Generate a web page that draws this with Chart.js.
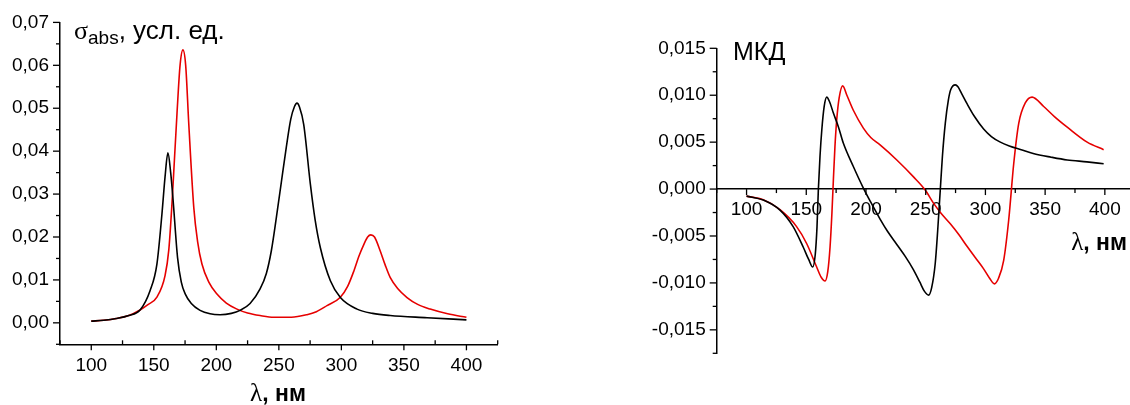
<!DOCTYPE html>
<html>
<head>
<meta charset="utf-8">
<script src="https://cdn.jsdelivr.net/npm/chart.js@4"></script>
<style>
body { margin: 0; width: 1130px; height: 405px; overflow: hidden; background: #fff; position: relative; }
#absBox { position: absolute; left: 0; top: 0; width: 520px; height: 405px; }
#mcdBox { position: absolute; left: 600px; top: 0; width: 540px; height: 405px; }
</style>
</head>
<body>
<div id="absBox"><canvas id="abs"></canvas></div>
<div id="mcdBox"><canvas id="mcd"></canvas></div>
<script>
// absorption, black curve
var absBlackX = [100, 110, 120, 130, 139, 147, 152.5, 156.5, 159, 161.3, 163.5, 165.3, 169, 172, 175.2, 180, 187, 195, 203, 212, 219, 227, 235, 240, 244, 248, 252, 256, 259.5, 262.5, 264.5, 266.5, 269.9, 275.2, 279, 283.2, 291.2, 299.2, 312.5, 325, 339, 368.5, 400];
var absBlackY = [0.0004, 0.0006, 0.0010, 0.0017, 0.0030, 0.0075, 0.0137, 0.0253, 0.0340, 0.0396, 0.0350, 0.0291, 0.0152, 0.0095, 0.0067, 0.0045, 0.0029, 0.0021, 0.0019, 0.0022, 0.0029, 0.0045, 0.0079, 0.0115, 0.0168, 0.0245, 0.0328, 0.0410, 0.0474, 0.0504, 0.0512, 0.0503, 0.0462, 0.0323, 0.0240, 0.0175, 0.0098, 0.0059, 0.0032, 0.0022, 0.0017, 0.0012, 0.0007];
// absorption, red curve
var absRedX = [100, 110, 120, 130, 139, 145, 152.5, 159, 162, 164.5, 166.5, 168.5, 171, 173.3, 175.5, 178, 182, 185, 188.5, 194, 200.5, 208, 216.5, 225, 235, 246, 260, 272.5, 280, 288.5, 299, 305, 310, 314, 318, 321, 323.5, 326.5, 331, 335, 339, 345, 352.5, 361, 371, 385, 400];
var absRedY = [0.0004, 0.0006, 0.0010, 0.0017, 0.0030, 0.0042, 0.0060, 0.0110, 0.0170, 0.0276, 0.0380, 0.0485, 0.0600, 0.0636, 0.0600, 0.0462, 0.0268, 0.0190, 0.0137, 0.0095, 0.0067, 0.0046, 0.0032, 0.0023, 0.0017, 0.0013, 0.0013, 0.0019, 0.0026, 0.0040, 0.0059, 0.0085, 0.0121, 0.0155, 0.0183, 0.0200, 0.0205, 0.0200, 0.0168, 0.0135, 0.0106, 0.0080, 0.0059, 0.0043, 0.0032, 0.0021, 0.0013];
// MCD, black curve
var mcdBlackX = [100, 114, 128, 139, 147.5, 152, 155.4, 157.5, 159, 160.1, 161.5, 163, 165, 167.1, 169.5, 172.7, 177, 181, 189.4, 197.8, 204, 211.8, 218, 225.8, 233, 239.8, 245, 249, 252.4, 255, 258, 260, 262.2, 264, 266.4, 269, 271, 274.8, 277, 280, 284.6, 291, 298.5, 305, 312.5, 320, 330, 340, 355, 368.5, 385, 399];
var mcdBlackY = [-0.00075, -0.00117, -0.00224, -0.0040, -0.0062, -0.0075, -0.0083, -0.0070, -0.0040, -0.0001, 0.0035, 0.0063, 0.0088, 0.0098, 0.0093, 0.0081, 0.0066, 0.0049, 0.0024, 0.0001, -0.0014, -0.0032, -0.0045, -0.0059, -0.0072, -0.0086, -0.0099, -0.0109, -0.0113, -0.0105, -0.0079, -0.0045, -0.0001, 0.0035, 0.0070, 0.0095, 0.0106, 0.0111, 0.0109, 0.0102, 0.0091, 0.0077, 0.0064, 0.0056, 0.0050, 0.0046, 0.0042, 0.0038, 0.0034, 0.0031, 0.0029, 0.0027];
// MCD, red curve
var mcdRedX = [100, 114, 128, 141.9, 150.3, 158.7, 162.5, 165.7, 168, 169.9, 171.5, 172.7, 174, 175.5, 177.5, 180.5, 184, 189.4, 197.8, 204, 211.8, 225.8, 239.8, 249.6, 256.5, 263, 270.6, 278, 284.6, 291.5, 298.5, 303.5, 307.5, 311, 315.3, 319.5, 323.7, 327.9, 333.5, 339.1, 348.8, 358, 368.5, 385.2, 399];
var mcdRedY = [-0.00075, -0.00115, -0.0022, -0.0040, -0.0058, -0.0083, -0.0094, -0.0098, -0.0088, -0.0062, -0.0025, 0.0010, 0.0045, 0.0074, 0.0097, 0.0110, 0.0100, 0.0084, 0.0065, 0.0055, 0.0047, 0.0031, 0.0013, -0.0001, -0.0015, -0.0026, -0.0037, -0.0049, -0.0061, -0.0073, -0.0085, -0.0095, -0.0101, -0.0095, -0.0076, -0.0033, 0.0027, 0.0070, 0.0092, 0.0098, 0.0088, 0.0077, 0.0066, 0.0050, 0.0042];
// tick labels
var lambdaTicks = [100, 150, 200, 250, 300, 350, 400];
var absTicks = [0, 0.01, 0.02, 0.03, 0.04, 0.05, 0.06, 0.07];
var mcdTicks = [-0.015, -0.01, -0.005, 0, 0.005, 0.01, 0.015];

var FONT = "'Liberation Sans', Arial, sans-serif";
var RED = '#e60000';

function pts(xs, ys) {
    return xs.map(function (x, i) { return {x: x, y: ys[i]}; });
}
function comma(v, d) {
    return v.toFixed(d).replace('.', ',').replace('-0,000', '0,000');
}
function line(xs, ys, color) {
    return {
        data: pts(xs, ys), showLine: true, borderColor: color, borderWidth: 1.6,
        pointRadius: 0, cubicInterpolationMode: 'monotone', fill: false
    };
}
function fixTicks(list) {
    return function (s) { s.ticks = list.map(function (v) { return {value: v}; }); };
}

// tick marks: major + minor, drawn off the chart's own scales
var tickMarks = {
    id: 'tickMarks',
    afterDraw: function (chart, args, o) {
        var ctx = chart.ctx, a = chart.chartArea;
        ctx.save();
        ctx.strokeStyle = '#000';
        ctx.lineWidth = 1.3;
        var sx = chart.scales.x, sy = chart.scales.y;
        var xAt = o.xAt == null ? a.bottom : sy.getPixelForValue(o.xAt);
        var v, p, maj;
        for (v = o.xMin; v <= o.xMax + 1e-9; v += o.xMinor) {
            p = sx.getPixelForValue(v);
            maj = Math.abs(v / o.xMajor - Math.round(v / o.xMajor)) < 1e-6;
            ctx.beginPath();
            ctx.moveTo(p, xAt);
            ctx.lineTo(p, maj ? xAt + 6 : xAt + o.minorDir * 4);
            ctx.stroke();
        }
        for (v = o.yMin; v <= o.yMax + 1e-9; v += o.yMinor) {
            p = sy.getPixelForValue(v);
            maj = Math.abs(v / o.yMajor - Math.round(v / o.yMajor)) < 1e-6;
            ctx.beginPath();
            ctx.moveTo(a.left, p);
            ctx.lineTo(a.left - (maj ? 7 : 4), p);
            ctx.stroke();
        }
        ctx.restore();
    }
};

// axis captions with greek letters and subscripts
var captions = {
    id: 'captions',
    afterDraw: function (chart, args, o) {
        var ctx = chart.ctx;
        ctx.save();
        ctx.fillStyle = '#000';
        ctx.textBaseline = 'alphabetic';
        o.items.forEach(function (it) {
            var x = it.x, w = 0;
            it.parts.forEach(function (pt) { ctx.font = pt.font; w += ctx.measureText(pt.t).width; });
            if (it.align === 'right') x -= w;
            else if (it.align === 'center') x -= w / 2;
            it.parts.forEach(function (pt) {
                ctx.font = pt.font;
                ctx.fillText(pt.t, x, it.y + (pt.dy || 0));
                x += ctx.measureText(pt.t).width;
            });
        });
        ctx.restore();
    }
};

var lambdaParts = [
    {t: 'λ', font: "25px 'Liberation Serif', serif"},
    {t: ', нм', font: "bold 23px " + FONT}
];

new Chart(document.getElementById('abs'), {
    type: 'scatter',
    data: {datasets: [line(absBlackX, absBlackY, '#000'), line(absRedX, absRedY, RED)]},
    options: {
        responsive: true, maintainAspectRatio: false, animation: false,
        layout: {padding: {top: 20.7, right: 22.3, left: 0, bottom: 0}},
        plugins: {
            legend: {display: false}, tooltip: {enabled: false},
            tickMarks: {xMin: 75, xMax: 425, xMinor: 25, xMajor: 50, minorDir: -1,
                yMin: -0.005, yMax: 0.07, yMinor: 0.005, yMajor: 0.01},
            captions: {items: [
                {x: 278, y: 401, align: 'center', parts: lambdaParts},
                {x: 74, y: 39, parts: [
                    {t: 'σ', font: "26px 'Liberation Serif', serif"},
                    {t: 'abs', font: "19px " + FONT, dy: 5},
                    {t: ', усл. ед.', font: "26px " + FONT}
                ]}
            ]}
        },
        scales: {
            x: {
                type: 'linear', min: 75, max: 425,
                grid: {display: false, drawTicks: false},
                border: {color: '#000', width: 1.5},
                ticks: {padding: 10, color: '#000', font: {family: FONT, size: 19}},
                afterBuildTicks: fixTicks(lambdaTicks),
                afterFit: function (s) { s.height = 60.7; }
            },
            y: {
                min: -0.005, max: 0.07,
                grid: {display: false, drawTicks: false},
                border: {color: '#000', width: 1.5},
                ticks: {padding: 11, color: '#000', font: {family: FONT, size: 19},
                    callback: function (v) { return comma(v, 2); }},
                afterBuildTicks: fixTicks(absTicks),
                afterFit: function (s) { s.width = 60; }
            }
        }
    },
    plugins: [tickMarks, captions]
});

new Chart(document.getElementById('mcd'), {
    type: 'scatter',
    data: {datasets: [line(mcdBlackX, mcdBlackY, '#000'), line(mcdRedX, mcdRedY, RED)]},
    options: {
        responsive: true, maintainAspectRatio: false, animation: false,
        layout: {padding: {top: 48.3, right: 5.3, left: 0, bottom: 51.7}},
        plugins: {
            legend: {display: false}, tooltip: {enabled: false},
            tickMarks: {xAt: 0, xMin: 75, xMax: 425, xMinor: 25, xMajor: 50, minorDir: 1,
                yMin: -0.0175, yMax: 0.015, yMinor: 0.0025, yMajor: 0.005},
            captions: {items: [
                {x: 527, y: 250, align: 'right', parts: lambdaParts},
                {x: 133, y: 60, parts: [{t: 'МКД', font: "25px " + FONT}]}
            ]}
        },
        scales: {
            x: {
                type: 'linear', min: 75, max: 425, position: {y: 0},
                grid: {display: false, drawTicks: false},
                border: {color: '#000', width: 1.5},
                ticks: {padding: 9, color: '#000', font: {family: FONT, size: 19}},
                afterBuildTicks: fixTicks(lambdaTicks)
            },
            y: {
                min: -0.0175, max: 0.015,
                grid: {display: false, drawTicks: false},
                border: {color: '#000', width: 1.5},
                ticks: {padding: 11, color: '#000', font: {family: FONT, size: 19},
                    callback: function (v) { return comma(v, 3); }},
                afterBuildTicks: fixTicks(mcdTicks),
                afterFit: function (s) { s.width = 116.7; }
            }
        }
    },
    plugins: [tickMarks, captions]
});
</script>
</body>
</html>
